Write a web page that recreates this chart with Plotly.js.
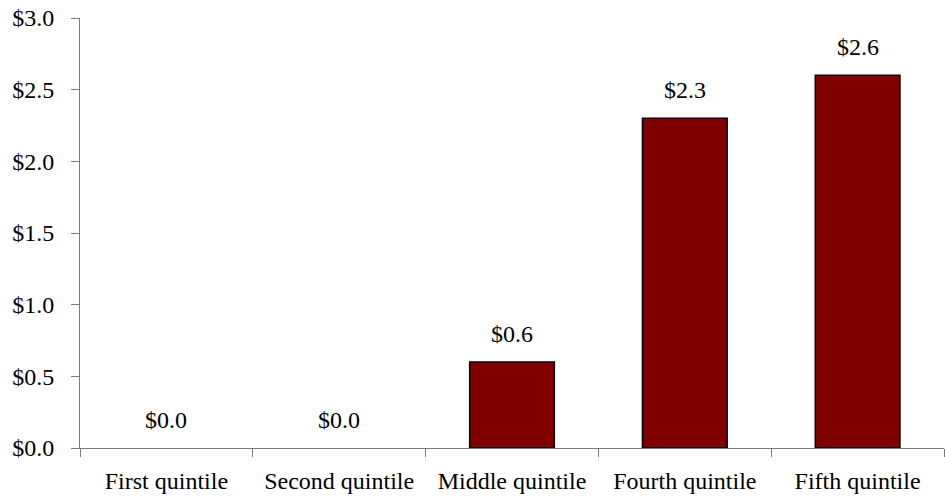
<!DOCTYPE html>
<html>
<head>
<meta charset="utf-8">
<script src="https://cdn.plot.ly/plotly-3.0.1.min.js"></script>
<style>
  html, body { margin: 0; padding: 0; background: #ffffff; }
  #chart { width: 945px; height: 498px; }
</style>
</head>
<body>
<div id="chart"></div>
<script>
// Data
const categories = ["First quintile", "Second quintile", "Middle quintile", "Fourth quintile", "Fifth quintile"];
const values = [0.0, 0.0, 0.6, 2.3, 2.6];
const yTickValues = [0, 0.5, 1.0, 1.5, 2.0, 2.5, 3.0];
const yTickLabels = yTickValues.map(v => "$" + v.toFixed(1));

const fontFamily = "Liberation Serif, Times New Roman, serif";
const fontSize = 24;
const axisColor = "#7a7a7a";

const trace = {
  type: "bar",
  x: categories,
  y: values,
  width: 0.49,
  marker: {
    color: "#800000",
    line: { color: "#000000", width: values.map(v => (v > 0 ? 1.5 : 0)) }
  },
  hoverinfo: "none"
};

const annotations = categories.map((c, i) => ({
  x: c,
  y: values[i],
  xref: "x",
  yref: "y",
  text: "$" + values[i].toFixed(1),
  showarrow: false,
  yanchor: "middle",
  yshift: 28,
  font: { family: fontFamily, size: fontSize, color: "#000000" }
}));

const layout = {
  width: 945,
  height: 498,
  margin: { l: 80, r: 1, t: 18, b: 50 },
  paper_bgcolor: "#ffffff",
  plot_bgcolor: "#ffffff",
  showlegend: false,
  bargap: 0.51,
  font: { family: fontFamily, size: fontSize, color: "#000000" },
  xaxis: {
    type: "category",
    range: [-0.5, 4.5],
    showline: true,
    linecolor: axisColor,
    linewidth: 1,
    ticks: "outside",
    tickson: "boundaries",
    ticklen: 8,
    tickcolor: axisColor,
    tickwidth: 1,
    showgrid: false,
    zeroline: false,
    ticklabelstandoff: 11,
    tickfont: { family: fontFamily, size: fontSize, color: "#000000" }
  },
  yaxis: {
    range: [0, 3.0],
    tickmode: "array",
    tickvals: yTickValues,
    ticktext: yTickLabels,
    showline: true,
    linecolor: axisColor,
    linewidth: 1,
    ticks: "outside",
    ticklen: 8,
    tickcolor: axisColor,
    tickwidth: 1,
    showgrid: false,
    zeroline: false,
    ticklabelstandoff: 12,
    tickfont: { family: fontFamily, size: fontSize, color: "#000000" }
  },
  annotations: annotations
};

Plotly.newPlot("chart", [trace], layout, { displayModeBar: false, staticPlot: true });
</script>
</body>
</html>
